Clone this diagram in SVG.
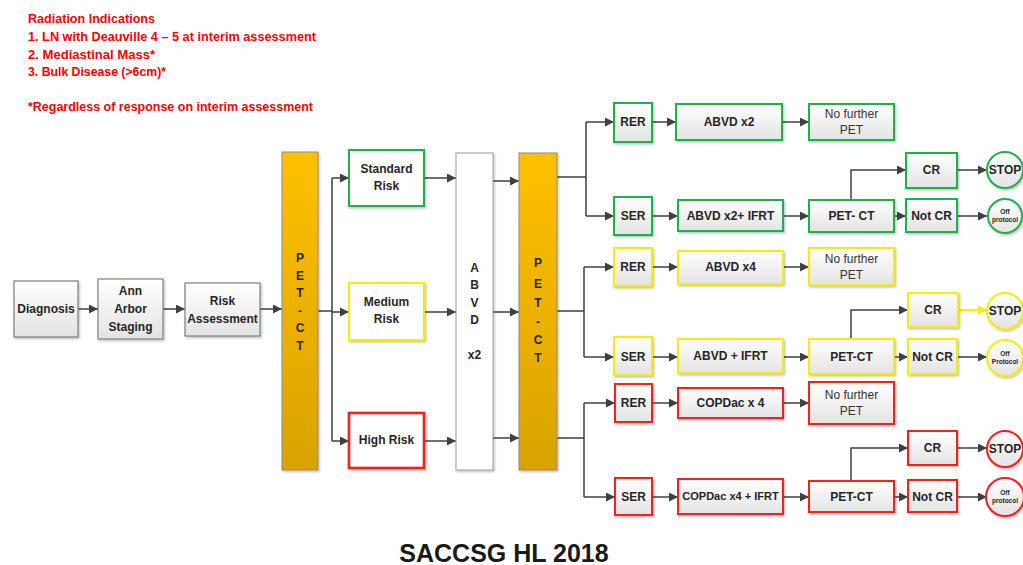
<svg xmlns="http://www.w3.org/2000/svg" width="1023" height="565" viewBox="0 0 1023 565">
<defs>
<linearGradient id="gbox" x1="0" y1="0" x2="0" y2="1"><stop offset="0" stop-color="#ffffff"/><stop offset="1" stop-color="#e3e3e3"/></linearGradient>
<linearGradient id="gold" x1="0" y1="0" x2="0" y2="1"><stop offset="0" stop-color="#ffc000"/><stop offset="1" stop-color="#d9a300"/></linearGradient>
<filter id="sh" x="-20%" y="-20%" width="140%" height="140%"><feDropShadow dx="1.2" dy="1.5" stdDeviation="1" flood-color="#000" flood-opacity="0.25"/></filter>
<marker id="ar" viewBox="0 0 10 10" refX="10" refY="5" markerWidth="9" markerHeight="9" markerUnits="userSpaceOnUse" orient="auto"><path d="M0,0 L10,5 L0,10 z" fill="#404040"/></marker>
<marker id="ary" viewBox="0 0 10 10" refX="10" refY="5" markerWidth="9" markerHeight="9" markerUnits="userSpaceOnUse" orient="auto"><path d="M0,0 L10,5 L0,10 z" fill="#f5ee00"/></marker>
</defs>
<style>
text{font-family:"Liberation Sans",Arial,sans-serif;font-weight:bold;font-size:12px;fill:#262626;text-anchor:middle;}
.note{fill:#ff0000;text-anchor:start;font-size:12.5px;}
.title{font-size:25px;fill:#1a1a1a;}
.reg{font-weight:normal;fill:#333;}
.tiny{font-size:6.5px;}
.b{fill:url(#gbox);stroke-width:2;filter:url(#sh);}
.grey{stroke:#7f7f7f;stroke-width:1.2;}
.gr{stroke:#1fb14b;}
.ye{stroke:#f5ee00;}
.rd{stroke:#ff1a1a;}
.bar{fill:url(#gold);stroke:#8c8c8c;stroke-width:1;filter:url(#sh);}
.w{fill:#ffffff;filter:url(#sh);}
.c{fill:none;stroke:#404040;stroke-width:1.5;}
.a{marker-end:url(#ar);}
</style>

<g id="notes">
<text class="note" x="28" y="23" textLength="127" lengthAdjust="spacingAndGlyphs">Radiation Indications</text>
<text class="note" x="28" y="41" textLength="288" lengthAdjust="spacingAndGlyphs">1. LN with Deauville 4 – 5 at interim assessment</text>
<text class="note" x="28" y="59" textLength="127" lengthAdjust="spacingAndGlyphs">2. Mediastinal Mass*</text>
<text class="note" x="28" y="76" textLength="138" lengthAdjust="spacingAndGlyphs">3. Bulk Disease (&gt;6cm)*</text>
<text class="note" x="28" y="111" textLength="285" lengthAdjust="spacingAndGlyphs">*Regardless of response on interim assessment</text>
</g>

<g id="connectors">
<path class="c a" d="M78,309 H98"/>
<path class="c a" d="M163,309 H185"/>
<path class="c a" d="M260,309 H282"/>
<path class="c" d="M318,311 H332 M332,178 V441"/>
<path class="c a" d="M332,178 H349"/>
<path class="c a" d="M332,312 H349"/>
<path class="c a" d="M332,441 H349"/>
<path class="c a" d="M424,178 H456"/>
<path class="c a" d="M424,312 H456"/>
<path class="c a" d="M424,441 H456"/>
<path class="c a" d="M493,181 H519"/>
<path class="c a" d="M493,312 H519"/>
<path class="c a" d="M493,438 H519"/>
<path class="c" d="M557,177 H586 M586,122 V216"/>
<path class="c a" d="M586,122 H614"/>
<path class="c a" d="M586,216 H614"/>
<path class="c" d="M557,311 H584 M584,267 V357"/>
<path class="c a" d="M584,267 H614"/>
<path class="c a" d="M584,357 H614"/>
<path class="c" d="M557,438 H584 M584,403 V497"/>
<path class="c a" d="M584,403 H615"/>
<path class="c a" d="M584,497 H615"/>
<path class="c a" d="M652,122 H676"/>
<path class="c a" d="M652,216 H678"/>
<path class="c a" d="M652,267 H678"/>
<path class="c a" d="M652,357 H678"/>
<path class="c a" d="M652,403 H678"/>
<path class="c a" d="M652,497 H678"/>
<path class="c a" d="M782,122 H809"/>
<path class="c a" d="M783,216 H809"/>
<path class="c a" d="M783,267 H809"/>
<path class="c a" d="M783,357 H809"/>
<path class="c a" d="M783,403 H809"/>
<path class="c a" d="M783,497 H809"/>
<path class="c a" d="M894,216 H906"/>
<path class="c a" d="M894,357 H908"/>
<path class="c a" d="M894,497 H908"/>
<path class="c a" d="M851,200 V170 H906"/>
<path class="c a" d="M851,339 V310 H908"/>
<path class="c a" d="M851,481 V448 H908"/>
<path class="c a" d="M957,170 H987"/>
<path class="c" d="M958,310 H987" style="stroke:#f5ee00;stroke-width:2;marker-end:url(#ary)"/>
<path class="c a" d="M957,448 H987"/>
<path class="c a" d="M957,216 H987"/>
<path class="c a" d="M957,357 H987"/>
<path class="c a" d="M957,497 H987"/>
</g>

<g id="diagnosis"><rect class="b grey" x="14" y="281" width="64" height="56"/><text x="46" y="313">Diagnosis</text></g>
<g id="annarbor"><rect class="b grey" x="98" y="279" width="65" height="60"/><text x="130.5" y="295">Ann</text><text x="130.5" y="313">Arbor</text><text x="130.5" y="331">Staging</text></g>
<g id="riskassess"><rect class="b grey" x="185" y="283" width="75" height="53"/><text x="222.5" y="305">Risk</text><text x="222.5" y="323">Assessment</text></g>

<g id="petct1"><rect class="bar" x="282" y="152" width="36" height="318"/>
<text x="300" y="262">P</text><text x="300" y="280">E</text><text x="300" y="297">T</text><text x="300" y="315">-</text><text x="300" y="332">C</text><text x="300" y="350">T</text></g>

<g id="stdrisk"><rect class="w gr" x="349" y="150" width="75" height="56" stroke-width="2"/><text x="386.5" y="173">Standard</text><text x="386.5" y="190">Risk</text></g>
<g id="medrisk"><rect class="w ye" x="349" y="283" width="75" height="57" stroke-width="2"/><text x="386.5" y="306">Medium</text><text x="386.5" y="323">Risk</text></g>
<g id="highrisk"><rect class="w rd" x="349" y="413" width="75" height="55" stroke-width="2.6"/><text x="386.5" y="444">High Risk</text></g>

<g id="abvdx2"><rect class="w" x="456" y="153" width="37" height="317" stroke="#9a9a9a" stroke-width="1"/>
<text x="474.5" y="272">A</text><text x="474.5" y="289">B</text><text x="474.5" y="307">V</text><text x="474.5" y="324">D</text><text x="474.5" y="359">x2</text></g>

<g id="petct2"><rect class="bar" x="519" y="153" width="38" height="317"/>
<text x="538" y="267">P</text><text x="538" y="288">E</text><text x="538" y="307">T</text><text x="538" y="326">-</text><text x="538" y="344">C</text><text x="538" y="362">T</text></g>

<!-- Green branch -->
<g id="g-rer"><rect class="b gr" x="614" y="103" width="38" height="39"/><text x="633" y="126">RER</text></g>
<g id="g-ser"><rect class="b gr" x="614" y="197" width="38" height="38"/><text x="633" y="220">SER</text></g>
<g id="g-abvd2"><rect class="b gr" x="676" y="104" width="106" height="36"/><text x="729" y="126">ABVD x2</text></g>
<g id="g-abvd2ifrt"><rect class="b gr" x="678" y="200" width="105" height="31"/><text x="730.5" y="220">ABVD x2+ IFRT</text></g>
<g id="g-nofurther"><rect class="b gr" x="809" y="104" width="85" height="36"/><text class="reg" x="851.5" y="118">No further</text><text class="reg" x="851.5" y="134">PET</text></g>
<g id="g-petct"><rect class="b gr" x="809" y="200" width="85" height="32"/><text x="851.5" y="220">PET- CT</text></g>
<g id="g-cr"><rect class="b gr" x="906" y="153" width="51" height="35"/><text x="931.5" y="174">CR</text></g>
<g id="g-notcr"><rect class="b gr" x="906" y="199" width="51" height="33"/><text x="931.5" y="220">Not CR</text></g>
<g id="g-stop"><circle class="b gr" cx="1005" cy="170" r="18"/><text x="1005" y="174">STOP</text></g>
<g id="g-off"><circle class="b gr" cx="1005" cy="216" r="17"/><text class="tiny" x="1005" y="214">Off</text><text class="tiny" x="1005" y="222">protocol</text></g>

<!-- Yellow branch -->
<g id="y-rer"><rect class="b ye" x="614" y="248" width="38" height="38"/><text x="633" y="271">RER</text></g>
<g id="y-ser"><rect class="b ye" x="614" y="337" width="38" height="38"/><text x="633" y="361">SER</text></g>
<g id="y-abvd4"><rect class="b ye" x="678" y="251" width="105" height="33"/><text x="730.5" y="271">ABVD x4</text></g>
<g id="y-abvdifrt"><rect class="b ye" x="678" y="339" width="105" height="34"/><text x="730.5" y="360">ABVD + IFRT</text></g>
<g id="y-nofurther"><rect class="b ye" x="809" y="248" width="85" height="37"/><text class="reg" x="851.5" y="263">No further</text><text class="reg" x="851.5" y="279">PET</text></g>
<g id="y-petct"><rect class="b ye" x="809" y="339" width="85" height="35"/><text x="851.5" y="361">PET-CT</text></g>
<g id="y-cr"><rect class="b ye" x="908" y="293" width="50" height="34"/><text x="933" y="314">CR</text></g>
<g id="y-notcr"><rect class="b ye" x="908" y="339" width="49" height="35"/><text x="932.5" y="361">Not CR</text></g>
<g id="y-stop"><circle class="b ye" cx="1005" cy="311" r="18"/><text x="1005" y="315">STOP</text></g>
<g id="y-off"><circle class="b ye" cx="1005" cy="358" r="18"/><text class="tiny" x="1005" y="356">Off</text><text class="tiny" x="1005" y="364">Protocol</text></g>

<!-- Red branch -->
<g id="r-rer"><rect class="b rd" x="615" y="384" width="37" height="38"/><text x="633.5" y="407">RER</text></g>
<g id="r-ser"><rect class="b rd" x="615" y="478" width="37" height="37"/><text x="633.5" y="501">SER</text></g>
<g id="r-copdac4"><rect class="b rd" x="678" y="388" width="105" height="30"/><text x="730.5" y="407">COPDac x 4</text></g>
<g id="r-copdacifrt"><rect class="b rd" x="678" y="479" width="105" height="35"/><text x="730.5" y="500" style="font-size:11px">COPDac x4 + IFRT</text></g>
<g id="r-nofurther"><rect class="b rd" x="809" y="382" width="85" height="42"/><text class="reg" x="851.5" y="399">No further</text><text class="reg" x="851.5" y="415">PET</text></g>
<g id="r-petct"><rect class="b rd" x="809" y="481" width="85" height="31"/><text x="851.5" y="501">PET-CT</text></g>
<g id="r-cr"><rect class="b rd" x="908" y="431" width="49" height="34"/><text x="932.5" y="452">CR</text></g>
<g id="r-notcr"><rect class="b rd" x="908" y="480" width="49" height="32"/><text x="932.5" y="501">Not CR</text></g>
<g id="r-stop"><circle class="b rd" cx="1005" cy="449" r="18"/><text x="1005" y="453">STOP</text></g>
<g id="r-off"><circle class="b rd" cx="1005" cy="497" r="19"/><text class="tiny" x="1005" y="495">Off</text><text class="tiny" x="1005" y="503">protocol</text></g>

<g id="title"><text class="title" x="504" y="562">SACCSG HL 2018</text></g>
</svg>
